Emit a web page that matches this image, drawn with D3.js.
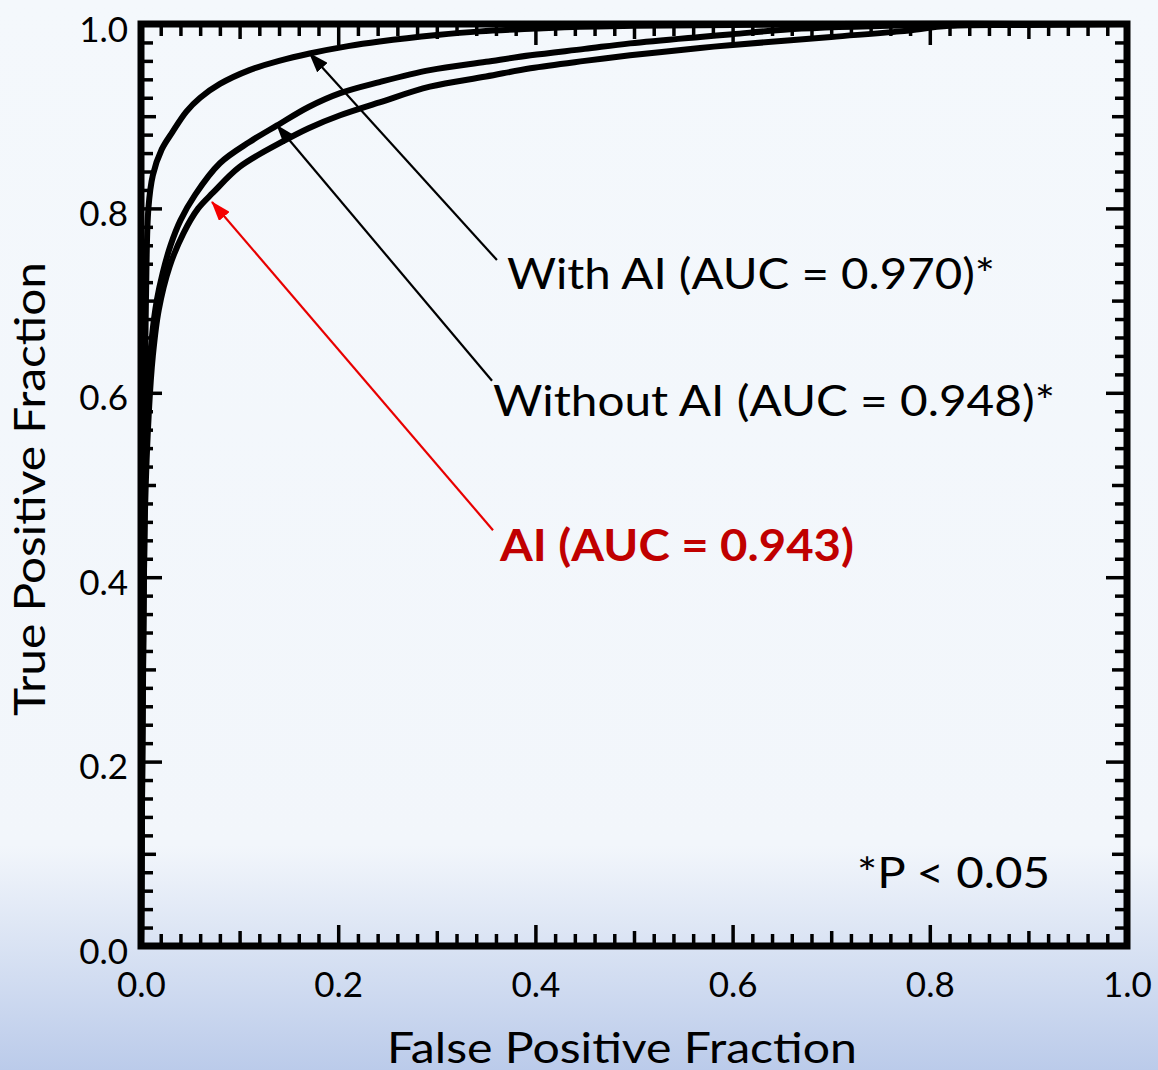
<!DOCTYPE html>
<html>
<head>
<meta charset="utf-8">
<script src="https://cdn.jsdelivr.net/npm/d3@7"></script>
<style>
  html, body { margin: 0; padding: 0; background: #F3F7FB; }
  svg { display: block; }
  text { font-family: Lato, "Open Sans", sans-serif; }
</style>
</head>
<body>
<svg id="chart" width="1158" height="1070"></svg>
<script>
// ROC curves: false positive fraction (fpf) vs true positive fraction (tpf)
const withAiFpf = [0, 0.001, 0.003, 0.005, 0.0075, 0.012, 0.021, 0.032, 0.046, 0.06, 0.08, 0.11, 0.14, 0.171, 0.21, 0.242, 0.3, 0.344, 0.4, 0.445, 0.5, 0.6, 0.7, 1];
const withAiTpf = [0, 0.3, 0.55, 0.7, 0.8, 0.836, 0.864, 0.883, 0.905, 0.92, 0.935, 0.95, 0.96, 0.968, 0.976, 0.981, 0.988, 0.992, 0.995, 0.997, 0.998, 0.999, 1, 1];

const withoutAiFpf = [0, 0.002, 0.004, 0.007, 0.011, 0.016, 0.022, 0.03, 0.04, 0.055, 0.08, 0.11, 0.138, 0.17, 0.202, 0.242, 0.293, 0.35, 0.395, 0.45, 0.496, 0.567, 0.6, 0.67, 0.8, 1];
const withoutAiTpf = [0, 0.3, 0.5, 0.6, 0.66, 0.7, 0.73, 0.76, 0.787, 0.815, 0.849, 0.872, 0.89, 0.91, 0.925, 0.937, 0.95, 0.959, 0.966, 0.973, 0.979, 0.986, 0.989, 0.995, 0.999, 1];

const aiFpf = [0, 0.002, 0.004, 0.008, 0.012, 0.018, 0.029, 0.043, 0.058, 0.073, 0.1, 0.141, 0.17, 0.202, 0.242, 0.293, 0.35, 0.395, 0.45, 0.496, 0.567, 0.597, 0.7, 0.77, 0.82, 0.9, 1];
const aiTpf = [0, 0.28, 0.47, 0.58, 0.64, 0.69, 0.737, 0.773, 0.8, 0.817, 0.845, 0.871, 0.887, 0.901, 0.915, 0.932, 0.943, 0.952, 0.96, 0.966, 0.974, 0.977, 0.986, 0.992, 0.998, 0.999, 1];

const xTickLabels = ["0.0", "0.2", "0.4", "0.6", "0.8", "1.0"];
const yTickLabels = ["0.0", "0.2", "0.4", "0.6", "0.8", "1.0"];

const curveLabels = ["With AI (AUC = 0.970)*", "Without AI (AUC = 0.948)*", "AI (AUC = 0.943)"];
// annotation arrows: [fpf, tpf] of the tail and of the tip
const arrowFrom = [[0.361, 0.744], [0.356, 0.613], [0.357, 0.451]];
const arrowTo = [[0.171, 0.968], [0.138, 0.890], [0.072, 0.807]];

const svg = d3.select("#chart");
const W = 1158, H = 1070;

// background wash
const defs = svg.append("defs");
const grad = defs.append("linearGradient").attr("id", "bg")
  .attr("gradientUnits", "userSpaceOnUse")
  .attr("x1", 0).attr("y1", 0).attr("x2", 0).attr("y2", H);
grad.append("stop").attr("offset", 0).attr("stop-color", "#F4F8FC");
grad.append("stop").attr("offset", 0.79).attr("stop-color", "#F2F6FB");
grad.append("stop").attr("offset", 1).attr("stop-color", "#BBCBEA");
svg.append("rect").attr("width", W).attr("height", H).attr("fill", "url(#bg)");

const x = d3.scaleLinear().domain([0, 1]).range([141, 1127]);
const y = d3.scaleLinear().domain([0, 1]).range([946, 24]);

// arrow heads
function addMarker(id, color) {
  defs.append("marker").attr("id", id)
    .attr("viewBox", "0 0 20 14").attr("refX", 19).attr("refY", 7)
    .attr("markerUnits", "userSpaceOnUse")
    .attr("markerWidth", 20).attr("markerHeight", 14)
    .attr("orient", "auto")
    .append("path").attr("d", "M0,0 L20,7 L0,14 Z").attr("fill", color);
}
addMarker("headBlack", "#000");
addMarker("headRed", "#F50000");

// tick sets (all ticks point into the plot)
const minorVals = d3.range(1, 50).map(i => i / 50).filter(v => Math.round(v * 50) % 5 !== 0);
const midVals = [0.1, 0.3, 0.5, 0.7, 0.9];
const majorVals = [0.2, 0.4, 0.6, 0.8];

const tickGroups = [
  { vals: minorVals, size: 12 },
  { vals: midVals, size: 15 },
  { vals: majorVals, size: 21 }
];

function styleTicks(g) {
  g.select(".domain").remove();
  g.selectAll(".tick line").attr("stroke", "#000").attr("stroke-width", 3.5);
  g.selectAll(".tick text").remove();
}

tickGroups.forEach(t => {
  svg.append("g").attr("transform", `translate(0,${y(0)})`)
    .call(d3.axisBottom(x).tickValues(t.vals).tickSize(-t.size)).call(styleTicks);
  svg.append("g").attr("transform", `translate(0,${y(1)})`)
    .call(d3.axisTop(x).tickValues(t.vals).tickSize(-t.size)).call(styleTicks);
  svg.append("g").attr("transform", `translate(${x(0)},0)`)
    .call(d3.axisLeft(y).tickValues(t.vals).tickSize(-t.size)).call(styleTicks);
  svg.append("g").attr("transform", `translate(${x(1)},0)`)
    .call(d3.axisRight(y).tickValues(t.vals).tickSize(-t.size)).call(styleTicks);
});

// tick labels
const labelVals = d3.range(0, 6).map(i => i / 5);
const xl = svg.append("g").attr("transform", `translate(0,${y(0)})`)
  .call(d3.axisBottom(x).tickValues(labelVals).tickSize(0).tickFormat((d, i) => xTickLabels[i]));
xl.select(".domain").remove();
xl.selectAll("text").attr("font-size", 35).attr("dy", null).attr("y", 51)
  .style("font-family", "Lato, sans-serif").style("fill", "#000");

const yl = svg.append("g").attr("transform", `translate(${x(0)},0)`)
  .call(d3.axisLeft(y).tickValues(labelVals).tickSize(0).tickFormat((d, i) => yTickLabels[i]));
yl.select(".domain").remove();
yl.selectAll("text").attr("font-size", 35).attr("dy", "17px").attr("x", -13)
  .style("font-family", "Lato, sans-serif").style("fill", "#000");

// ROC curves
const line = d3.line().x(d => x(d[0])).y(d => y(d[1])).curve(d3.curveCatmullRom.alpha(0.5));
const series = [
  d3.zip(withAiFpf, withAiTpf),
  d3.zip(withoutAiFpf, withoutAiTpf),
  d3.zip(aiFpf, aiTpf)
];
svg.append("g").selectAll("path").data(series).join("path")
  .attr("d", line).attr("fill", "none").attr("stroke", "#000")
  .attr("stroke-width", 6).attr("stroke-linejoin", "round").attr("stroke-linecap", "round");

// frame
svg.append("rect").attr("x", x(0)).attr("y", y(1))
  .attr("width", x(1) - x(0)).attr("height", y(0) - y(1))
  .attr("fill", "none").attr("stroke", "#000").attr("stroke-width", 7);

// annotation arrows
const arrowColors = ["#000", "#000", "#E80000"];
const arrowHeads = ["headBlack", "headBlack", "headRed"];
svg.append("g").selectAll("line").data(arrowFrom).join("line")
  .attr("x1", d => x(d[0])).attr("y1", d => y(d[1]))
  .attr("x2", (d, i) => x(arrowTo[i][0])).attr("y2", (d, i) => y(arrowTo[i][1]))
  .attr("stroke", (d, i) => arrowColors[i]).attr("stroke-width", 2.2)
  .attr("marker-end", (d, i) => `url(#${arrowHeads[i]})`);

// curve labels
const labelPos = [[507, 289, 488], [493, 416, 562], [500, 561, 354]];
svg.append("g").selectAll("text").data(curveLabels).join("text")
  .attr("x", (d, i) => labelPos[i][0]).attr("y", (d, i) => labelPos[i][1])
  .attr("textLength", (d, i) => labelPos[i][2]).attr("lengthAdjust", "spacingAndGlyphs")
  .attr("font-size", (d, i) => i === 2 ? 44 : 42)
  .attr("font-weight", (d, i) => i === 2 ? "bold" : "normal")
  .style("fill", (d, i) => i === 2 ? "#C00000" : "#000")
  .text(d => d);

svg.append("text").attr("x", 857).attr("y", 888)
  .attr("textLength", 193).attr("lengthAdjust", "spacingAndGlyphs")
  .attr("font-size", 42).style("fill", "#000").text("*P < 0.05");

// axis titles
svg.append("text").attr("x", 622).attr("y", 1063).attr("text-anchor", "middle")
  .attr("textLength", 470).attr("lengthAdjust", "spacingAndGlyphs")
  .attr("font-size", 42).style("fill", "#000").text("False Positive Fraction");
svg.append("text").attr("transform", "translate(45,489) rotate(-90)")
  .attr("text-anchor", "middle")
  .attr("textLength", 454).attr("lengthAdjust", "spacingAndGlyphs")
  .attr("font-size", 42).style("fill", "#000").text("True Positive Fraction");
</script>
</body>
</html>
